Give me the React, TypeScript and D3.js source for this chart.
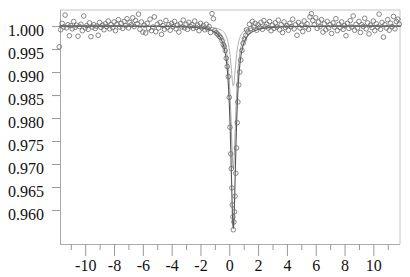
import React, { useEffect, useRef } from 'react'
import * as d3 from 'd3'

// measured spectrum (velocity mm/s, relative transmission)
const velocity = [
  -11.8, -11.7, -11.6, -11.5, -11.4, -11.3, -11.2, -11.1, -11.0, -10.9,
  -10.8, -10.7, -10.6, -10.5, -10.4, -10.3, -10.2, -10.1, -10.0, -9.9,
  -9.8, -9.7, -9.6, -9.5, -9.4, -9.3, -9.2, -9.1, -9.0, -8.9,
  -8.8, -8.7, -8.6, -8.5, -8.4, -8.3, -8.2, -8.1, -8.0, -7.9,
  -7.8, -7.7, -7.6, -7.5, -7.4, -7.3, -7.2, -7.1, -7.0, -6.9,
  -6.8, -6.7, -6.6, -6.5, -6.4, -6.3, -6.2, -6.1, -6.0, -5.9,
  -5.8, -5.7, -5.6, -5.5, -5.4, -5.3, -5.2, -5.1, -5.0, -4.9,
  -4.8, -4.7, -4.6, -4.5, -4.4, -4.3, -4.2, -4.1, -4.0, -3.9,
  -3.8, -3.7, -3.6, -3.5, -3.4, -3.3, -3.2, -3.1, -3.0, -2.9,
  -2.8, -2.7, -2.6, -2.5, -2.4, -2.3, -2.2, -2.1, -2.0, -1.9,
  -1.8, -1.7, -1.6, -1.5, -1.4, -1.3, -1.2, -1.1, -1.0, -0.9,
  -0.8, -0.7, -0.6, -0.5, -0.42, -0.35, -0.28, -0.21, -0.14, -0.07,
  0.0, 0.05, 0.1, 0.14, 0.18, 0.21, 0.25, 0.28, 0.32, 0.36,
  0.4, 0.45, 0.5, 0.55, 0.6, 0.66, 0.73, 0.8, 0.88, 0.96,
  1.05, 1.14, 1.2, 1.3, 1.4, 1.5, 1.6, 1.7, 1.8, 1.9,
  2.0, 2.1, 2.2, 2.3, 2.4, 2.5, 2.6, 2.7, 2.8, 2.9,
  3.0, 3.1, 3.2, 3.3, 3.4, 3.5, 3.6, 3.7, 3.8, 3.9,
  4.0, 4.1, 4.2, 4.3, 4.4, 4.5, 4.6, 4.7, 4.8, 4.9,
  5.0, 5.1, 5.2, 5.3, 5.4, 5.5, 5.6, 5.7, 5.8, 5.9,
  6.0, 6.1, 6.2, 6.3, 6.4, 6.5, 6.6, 6.7, 6.8, 6.9,
  7.0, 7.1, 7.2, 7.3, 7.4, 7.5, 7.6, 7.7, 7.8, 7.9,
  8.0, 8.1, 8.2, 8.3, 8.4, 8.5, 8.6, 8.7, 8.8, 8.9,
  9.0, 9.1, 9.2, 9.3, 9.4, 9.5, 9.6, 9.7, 9.8, 9.9,
  10.0, 10.1, 10.2, 10.3, 10.4, 10.5, 10.6, 10.7, 10.8, 10.9,
  11.0, 11.1, 11.2, 11.3, 11.4, 11.5, 11.6, 11.7, 11.8,
]
const transmission = [
  0.9955, 0.9992, 1.0006, 0.9998, 1.0024, 0.9996, 1.0003, 0.9979, 1.0001, 0.9994,
  1.0010, 0.9997, 1.0002, 0.9978, 0.9999, 1.0004, 0.9990, 1.0022, 0.9996, 1.0001,
  0.9993, 1.0007, 0.9977, 0.9998, 1.0003, 0.9995, 1.0000, 0.9980, 1.0008, 0.9997,
  1.0002, 0.9992, 1.0005, 0.9999, 1.0011, 0.9994, 1.0003, 0.9997, 1.0009, 0.9990,
  1.0004, 1.0014, 0.9998, 1.0006, 0.9995, 1.0010, 1.0001, 1.0016, 0.9996, 1.0008,
  1.0003, 1.0018, 0.9999, 1.0012, 1.0005, 1.0026, 0.9993, 1.0009, 0.9987, 1.0002,
  0.9985, 1.0006, 0.9995, 1.0015, 0.9990, 0.9998, 1.0020, 0.9988, 1.0004, 0.9996,
  1.0008, 0.9982, 1.0001, 0.9993, 1.0012, 0.9997, 1.0003, 0.9991, 1.0006, 0.9999,
  1.0010, 0.9994, 1.0002, 0.9987, 1.0005, 0.9998, 1.0013, 0.9996, 1.0004, 0.9993,
  1.0008, 0.9999, 1.0003, 0.9995, 1.0011, 0.9997, 1.0002, 0.9990, 1.0006, 0.9996,
  1.0001, 0.9992, 1.0004, 0.9994, 0.9999, 0.9986, 1.0027, 1.0016, 0.9990, 0.9985,
  0.9982, 0.9978, 0.9975, 0.9968, 0.9960, 0.9956, 0.9947, 0.9930, 0.9912, 0.9890,
  0.9845, 0.9780, 0.9722, 0.9690, 0.9648, 0.9611, 0.9585, 0.9557, 0.9574, 0.9596,
  0.9630, 0.9680, 0.9735, 0.9790, 0.9835, 0.9872, 0.9900, 0.9926, 0.9947, 0.9963,
  0.9972, 0.9980, 0.9992, 0.9987, 1.0004, 0.9995, 1.0010, 0.9998, 1.0006, 0.9991,
  1.0003, 0.9997, 1.0008, 0.9993, 1.0012, 0.9999, 1.0004, 0.9996, 1.0010, 0.9990,
  1.0002, 0.9995, 1.0007, 0.9998, 1.0013, 0.9992, 1.0003, 0.9986, 1.0009, 0.9997,
  1.0001, 0.9991, 1.0006, 0.9999, 1.0015, 0.9994, 1.0003, 0.9980, 1.0008, 0.9996,
  1.0002, 0.9988, 1.0011, 0.9998, 1.0005, 0.9993, 1.0020, 1.0027, 1.0012, 1.0003,
  1.0018, 0.9995, 1.0009, 0.9999, 1.0014, 0.9987, 1.0005, 0.9992, 1.0010, 0.9996,
  1.0003, 0.9984, 1.0007, 0.9998, 1.0016, 0.9990, 1.0004, 0.9997, 1.0009, 0.9993,
  1.0001, 0.9979, 1.0006, 0.9995, 1.0012, 0.9998, 1.0022, 0.9991, 1.0004, 0.9996,
  1.0010, 0.9986, 1.0003, 0.9999, 1.0017, 0.9994, 1.0007, 0.9983, 1.0002, 0.9997,
  1.0011, 0.9990, 1.0005, 0.9998, 1.0026, 0.9993, 1.0008, 0.9976, 1.0003, 0.9996,
  1.0014, 0.9991, 1.0006, 0.9999, 1.0021, 0.9994, 1.0010, 1.0015, 1.0004,
]

// fitted curves: total and the two sub-spectra
const fitVelocity = [
  -11.8, -8, -4, -2, -1, -0.6, -0.4, -0.2, -0.1, 0, 0.05, 0.1, 0.15, 0.2, 0.25, 0.28,
  0.31, 0.36, 0.41, 0.46, 0.51, 0.56, 0.66, 0.76, 0.96, 1.16, 1.56, 2.56, 4.56, 8.56, 11.9,
]
const fitTotal = [
  1.0, 1.0, 0.9999, 0.9996, 0.9987, 0.9974, 0.9958, 0.9924, 0.989, 0.9832, 0.979, 0.9736, 0.9674, 0.9611, 0.9568, 0.956,
  0.9568, 0.9611, 0.9674, 0.9736, 0.979, 0.9832, 0.989, 0.9924, 0.9958, 0.9974, 0.9987, 0.9996, 0.9999, 1.0, 1.0,
]
const fitSiteA = [
  1.0, 1.0, 0.9999, 0.9997, 0.9991, 0.9982, 0.9971, 0.9946, 0.9922, 0.9882, 0.9852, 0.9814, 0.977, 0.9726, 0.9696, 0.969,
  0.9696, 0.9726, 0.977, 0.9814, 0.9852, 0.9882, 0.9922, 0.9946, 0.9971, 0.9982, 0.9991, 0.9997, 0.9999, 1.0, 1.0,
]
const fitSiteB = [
  1.0, 1.0, 1.0, 0.9999, 0.9996, 0.9992, 0.9988, 0.9977, 0.9967, 0.995, 0.9938, 0.9922, 0.9904, 0.9885, 0.9872, 0.987,
  0.9872, 0.9885, 0.9904, 0.9922, 0.9938, 0.995, 0.9967, 0.9977, 0.9988, 0.9992, 0.9996, 0.9999, 1.0, 1.0, 1.0,
]

const xMajor = [-10, -8, -6, -4, -2, 0, 2, 4, 6, 8, 10]
const xMinor = [-11, -9, -7, -5, -3, -1, 1, 3, 5, 7, 9, 11]
const yTicks = [0.96, 0.965, 0.97, 0.975, 0.98, 0.985, 0.99, 0.995, 1.0]

export default function App() {
  const ref = useRef<SVGSVGElement>(null)

  useEffect(() => {
    const svg = d3.select(ref.current)
    svg.selectAll('*').remove()

    const left = 60, right = 400, top = 10, bottom = 244
    const x = d3.scaleLinear().domain([-11.75, 11.85]).range([left, right])
    const y = d3.scaleLinear().domain([0.9526, 1.0035]).range([bottom, top])
    const font = "'Liberation Serif', 'Times New Roman', 'DejaVu Serif', serif"

    // frame top / right
    svg.append('path')
      .attr('d', `M${left},${top}H${right}V${bottom}`)
      .attr('fill', 'none').attr('stroke', '#c4c4c4').attr('stroke-width', 1)

    // bottom axis, minor then major ticks
    const xMin = svg.append('g').attr('transform', `translate(0,${bottom})`)
      .call(d3.axisBottom(x).tickValues(xMinor).tickSize(6).tickSizeOuter(0).tickFormat(() => ''))
    xMin.select('.domain').remove()
    const xAx = svg.append('g').attr('transform', `translate(0,${bottom})`)
      .call(d3.axisBottom(x).tickValues(xMajor).tickSize(12).tickSizeOuter(0).tickPadding(4).tickFormat(d3.format('d')))
    xAx.select('.domain').attr('d', `M${left},0.5H${right}`)
    svg.selectAll('.tick line').attr('stroke', '#999')
    svg.selectAll('.domain').attr('stroke', '#aaa')
    xAx.attr('font-family', null)
    xAx.selectAll('text')
      .style('font-family', font).style('font-size', '16px').attr('fill', '#111')
      .text((d: any) => String(d))

    // left axis
    const yAx = svg.append('g').attr('transform', `translate(${left},0)`)
      .call(d3.axisLeft(y).tickValues(yTicks).tickSize(8).tickSizeOuter(0).tickPadding(8).tickFormat(d3.format('.3f')))
    yAx.attr('font-family', null)
    yAx.select('.domain').attr('d', `M0.5,${top}V${bottom}`).attr('stroke', '#aaa')
    yAx.selectAll('.tick line').attr('stroke', '#999')
    yAx.selectAll('text')
      .style('font-family', font).style('font-size', '16px').attr('fill', '#111')
      .attr('dy', '0.6em')

    // fits
    const line = d3.line<number>()
      .x((d, i) => x(fitVelocity[i]))
      .y(d => y(d))
      .curve(d3.curveMonotoneX)
    const fits: [number[], string, number][] = [
      [fitSiteB, '#9a9a9a', 0.8],
      [fitSiteA, '#8a8a8a', 0.8],
      [fitTotal, '#555', 1.1],
    ]
    fits.forEach(([vals, c, w]) => {
      svg.append('path').attr('d', line(vals) as string)
        .attr('fill', 'none').attr('stroke', c).attr('stroke-width', w)
    })

    // data points
    svg.append('g').selectAll('circle')
      .data(transmission)
      .enter().append('circle')
      .attr('cx', (d, i) => x(velocity[i]))
      .attr('cy', d => y(d))
      .attr('r', 2.3)
      .attr('fill', 'none')
      .attr('stroke', '#6a6a6a')
      .attr('stroke-width', 0.8)
  }, [])

  return (
    <svg ref={ref} width={410} height={277}
      style={{ position: 'absolute', left: 0, top: 0, background: '#fff' }} />
  )
}
